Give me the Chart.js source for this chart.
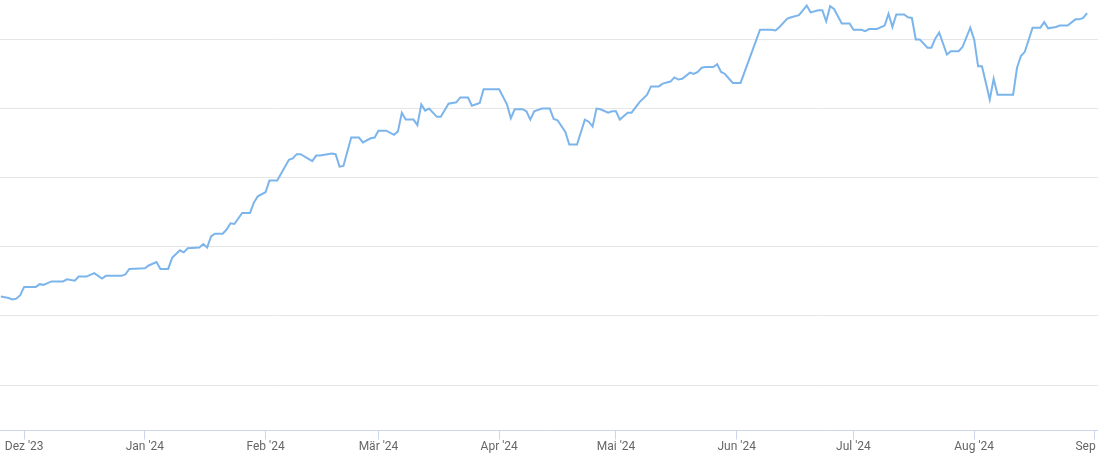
<!DOCTYPE html>
<html>
<head>
<meta charset="utf-8">
<script src="https://cdn.jsdelivr.net/npm/chart.js@4"></script>
<style>
  html, body { margin: 0; padding: 0; background: #fff; }
  #wrap { width: 1098px; height: 454px; position: relative; }
</style>
</head>
<body>
<div id="wrap"><canvas id="chart"></canvas></div>
<script>
// Datenpunkte (Tageswerte)
const dates = [
  "2023-11-25","2023-11-27","2023-11-28","2023-11-29","2023-11-30",
  "2023-12-01","2023-12-04","2023-12-05","2023-12-06","2023-12-08","2023-12-11","2023-12-12","2023-12-14","2023-12-15","2023-12-17",
  "2023-12-19","2023-12-21","2023-12-22","2023-12-26","2023-12-27","2023-12-28",
  "2024-01-01","2024-01-02","2024-01-04","2024-01-05","2024-01-07","2024-01-08","2024-01-10","2024-01-11","2024-01-12",
  "2024-01-15","2024-01-16","2024-01-17","2024-01-18","2024-01-19","2024-01-21","2024-01-22","2024-01-23","2024-01-24",
  "2024-01-26","2024-01-28","2024-01-29","2024-01-30",
  "2024-02-01","2024-02-02","2024-02-04","2024-02-07","2024-02-08","2024-02-09","2024-02-10","2024-02-13","2024-02-14",
  "2024-02-15","2024-02-18","2024-02-19","2024-02-20","2024-02-21","2024-02-23","2024-02-25","2024-02-26","2024-02-28","2024-02-29",
  "2024-03-01","2024-03-03","2024-03-05","2024-03-06","2024-03-07","2024-03-08","2024-03-10","2024-03-11","2024-03-12","2024-03-13",
  "2024-03-14","2024-03-16","2024-03-17","2024-03-19","2024-03-21","2024-03-22","2024-03-24","2024-03-25","2024-03-27","2024-03-28",
  "2024-04-01","2024-04-03","2024-04-04","2024-04-05","2024-04-07","2024-04-08","2024-04-09","2024-04-10","2024-04-12","2024-04-14",
  "2024-04-15","2024-04-16","2024-04-18","2024-04-19","2024-04-21","2024-04-23","2024-04-24","2024-04-25","2024-04-26","2024-04-27",
  "2024-04-29","2024-04-30",
  "2024-05-01","2024-05-02","2024-05-04","2024-05-05","2024-05-07","2024-05-09","2024-05-10","2024-05-12","2024-05-13","2024-05-15",
  "2024-05-16","2024-05-17","2024-05-18","2024-05-20","2024-05-21","2024-05-22","2024-05-23","2024-05-24","2024-05-26","2024-05-27",
  "2024-05-28","2024-05-29","2024-05-31",
  "2024-06-02","2024-06-07","2024-06-10","2024-06-11","2024-06-12","2024-06-14","2024-06-15","2024-06-17","2024-06-19","2024-06-20",
  "2024-06-22","2024-06-23","2024-06-24","2024-06-25","2024-06-26","2024-06-28","2024-06-30",
  "2024-07-01","2024-07-03","2024-07-04","2024-07-05","2024-07-07","2024-07-09","2024-07-10","2024-07-11","2024-07-12","2024-07-14",
  "2024-07-15","2024-07-16","2024-07-17","2024-07-18","2024-07-20","2024-07-21","2024-07-22","2024-07-23","2024-07-25","2024-07-26",
  "2024-07-28","2024-07-29","2024-07-31",
  "2024-08-01","2024-08-02","2024-08-03","2024-08-05","2024-08-06","2024-08-07","2024-08-11","2024-08-12","2024-08-13","2024-08-14",
  "2024-08-16","2024-08-18","2024-08-19","2024-08-20","2024-08-22","2024-08-23","2024-08-25","2024-08-27","2024-08-28","2024-08-29",
  "2024-08-30"
];
const values = [
  12.8,12.6,12.4,12.5,13.0,
  14.2,14.2,14.6,14.5,15.0,15.0,15.3,15.1,15.7,15.7,
  16.2,15.4,15.8,15.8,16.0,16.8,
  16.9,17.3,17.8,16.8,16.8,18.4,19.5,19.2,19.8,
  19.9,20.4,19.9,21.5,21.9,21.9,22.5,23.4,23.3,
  24.9,24.9,26.4,27.3,
  27.9,29.6,29.6,32.6,32.8,33.4,33.4,32.4,33.2,
  33.2,33.5,33.4,31.6,31.7,35.8,35.8,35.1,35.7,35.8,
  36.8,36.8,36.2,36.7,39.4,38.4,38.4,37.6,40.6,39.7,
  40.0,38.8,38.8,40.7,40.9,41.6,41.6,40.4,40.8,42.8,
  42.8,40.6,38.6,39.9,39.9,39.6,38.4,39.6,40.0,40.0,
  38.5,38.3,36.6,34.8,34.8,38.4,38.1,37.4,40.0,39.9,
  39.4,39.6,
  39.6,38.4,39.4,39.4,40.9,42.0,43.2,43.2,43.6,43.9,
  44.5,44.2,44.3,45.2,45.0,45.3,45.9,46.0,46.0,46.4,
  45.3,45.0,43.7,
  43.7,51.4,51.4,51.3,51.8,53.0,53.2,53.5,54.9,53.9,
  54.2,54.2,52.6,54.8,54.4,52.3,52.3,
  51.4,51.4,51.2,51.5,51.5,52.0,53.7,51.8,53.6,53.6,
  53.2,53.1,50.0,50.0,48.8,48.8,50.1,51.0,47.8,48.3,
  48.3,48.9,51.7,
  50.0,46.1,46.1,41.3,44.3,42.0,42.0,45.9,47.6,48.2,
  51.7,51.7,52.5,51.6,51.8,52.0,52.0,52.9,52.9,53.1,
  53.8
];

// Achsenbeschriftung
const monthStarts = ["2023-12-01","2024-01-01","2024-02-01","2024-03-01","2024-04-01","2024-05-01",
                     "2024-06-01","2024-07-01","2024-08-01","2024-09-01"];
const monthLabels = ["Dez '23","Jan '24","Feb '24","Mär '24","Apr '24","Mai '24",
                     "Jun '24","Jul '24","Aug '24","Sep '24"];
const gridValues = [0, 10, 20, 30, 40, 50];

const DAY = 86400000;
const origin = Date.UTC(2023, 11, 1);
const toDay = s => {
  const [y, m, d] = s.split("-").map(Number);
  return (Date.UTC(y, m - 1, d) - origin) / DAY;
};

const points = dates.map((d, i) => ({ x: toDay(d), y: values[i] }));
const monthTicks = monthStarts.map(toDay);

new Chart(document.getElementById("chart"), {
  type: "line",
  data: {
    datasets: [{
      data: points,
      borderColor: "#7cb5ec",
      borderWidth: 2,
      tension: 0,
      pointRadius: 0,
      fill: false
    }]
  },
  options: {
    responsive: true,
    maintainAspectRatio: false,
    animation: false,
    layout: { padding: 0 },
    plugins: {
      legend: { display: false },
      tooltip: { enabled: false }
    },
    scales: {
      x: {
        type: "linear",
        min: -6.2,
        max: 275.8,
        afterBuildTicks: s => { s.ticks = monthTicks.map(v => ({ value: v })); },
        afterFit: s => { s.paddingRight = 0; s.paddingLeft = 0; },
        grid: {
          drawOnChartArea: false,
          drawTicks: true,
          tickLength: 9,
          color: "#ccd6eb"
        },
        border: { color: "#ccd6eb", width: 1 },
        ticks: {
          autoSkip: false,
          maxRotation: 0,
          padding: 0,
          color: "#666666",
          font: { family: "Roboto", size: 12 },
          callback: v => monthLabels[monthTicks.indexOf(v)]
        }
      },
      y: {
        min: -6.58,
        max: 55.7,
        afterBuildTicks: s => { s.ticks = gridValues.map(v => ({ value: v })); },
        grid: { color: "#e6e6e6", drawTicks: false },
        border: { display: false },
        ticks: { display: false }
      }
    }
  }
});
</script>
</body>
</html>
